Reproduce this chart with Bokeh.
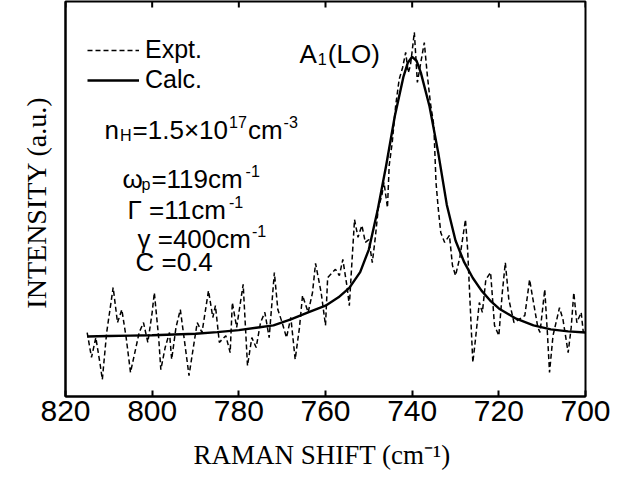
from bokeh.plotting import figure
from bokeh.models import Range1d, FixedTicker, Label, Legend, LegendItem
from bokeh.embed import file_html
from bokeh.resources import INLINE

# ---------------- data ----------------
x_ticks = [820, 800, 780, 760, 740, 720, 700]

calc_x = [815, 810, 805, 800, 795, 790, 785, 780, 776, 772, 768, 764, 760, 757, 754.5,
          752, 750, 748, 746, 744, 742, 741, 740, 739, 738, 736, 734, 732, 730, 728,
          726, 724, 722, 720, 716, 712, 708, 704, 700]
calc_y = [15.2, 15.3, 15.4, 15.5, 15.7, 15.9, 16.3, 16.8, 17.4, 18.0, 19.5, 21.3, 23.0, 25.1, 27.5,
          31.5, 37.2, 47.0, 58.5, 71.0, 81.0, 84.5, 86.0, 85.0, 82.0, 73.5, 61.8, 48.5, 39.5, 34.0,
          30.0, 26.8, 24.3, 22.3, 19.7, 18.0, 17.0, 16.5, 16.2]

expt_x = [815.0, 814.0, 813.0, 812.0, 811.5, 810.5, 809.5, 809.0, 808.0, 807.0, 806.0, 805.0,
          804.0, 803.0, 802.0, 801.0, 800.0, 799.5, 798.5, 798.0, 797.0, 796.0, 795.5, 794.5,
          793.5, 792.5, 791.5, 790.5, 789.6, 788.5, 787.0, 786.0, 785.4, 784.5, 783.0, 782.0,
          781.5, 780.5, 779.0, 778.0, 777.0, 776.0, 775.0, 774.0, 773.0, 771.8, 771.0, 770.0,
          769.0, 768.0, 767.0, 766.0, 765.3, 764.0, 763.0, 762.3, 761.0, 760.0, 759.5, 758.4,
          757.7, 756.8, 756.0, 755.0, 754.5, 754.0, 753.3, 752.5, 751.6, 750.8, 750.0, 749.2,
          748.5, 747.8, 747.0, 746.5, 745.7, 745.3, 744.6, 743.8, 743.0, 742.2, 741.5, 740.9,
          740.4, 739.9, 739.5, 738.8, 738.0, 737.2, 736.5, 735.8, 735.0, 734.5, 734.0, 733.4,
          732.5, 731.4, 730.7, 730.0, 729.0, 727.7, 727.2, 726.5, 726.0, 725.4, 724.5, 723.8,
          723.0, 721.9, 721.0, 720.0, 719.2, 718.5, 717.7, 716.5, 715.4, 714.0, 712.9, 712.0,
          711.0, 710.5, 709.4, 708.8, 708.3, 707.5, 706.8, 706.0, 705.2, 704.0, 703.3, 702.7,
          702.0, 701.0, 700.5]
expt_y = [16.2, 9.9, 14.9, 8.1, 4.3, 16.2, 23.8, 27.6, 18.7, 22.0, 14.9, 6.1,
          11.1, 16.2, 18.7, 13.7, 21.3, 26.3, 14.9, 6.8, 12.4, 16.2, 9.4, 17.5,
          22.0, 13.7, 5.3, 12.4, 18.7, 16.2, 26.8, 20.0, 23.0, 13.7, 15.4, 11.1,
          23.8, 17.5, 28.4, 7.8, 14.9, 12.4, 18.7, 21.3, 14.9, 31.4, 22.0, 18.7,
          14.9, 20.0, 9.4, 17.5, 25.6, 21.3, 26.3, 33.7, 26.3, 18.0, 30.1, 31.4,
          32.2, 30.6, 34.7, 27.6, 23.0, 32.2, 44.8, 40.3, 43.3, 39.0, 39.7, 33.9,
          40.3, 47.8, 50.9, 54.2, 47.8, 58.5, 64.3, 73.7, 80.3, 83.3, 87.1, 82.0,
          83.8, 88.4, 92.2, 79.5, 84.6, 89.6, 81.3, 74.4, 68.6, 54.2, 47.8, 41.5,
          39.0, 40.8, 33.2, 30.6, 35.2, 44.8, 37.2, 20.5, 8.6, 14.4, 23.8, 21.3,
          29.6, 31.4, 18.0, 15.4, 26.3, 33.9, 24.6, 18.7, 19.5, 20.5, 29.6, 23.8,
          17.5, 16.2, 27.1, 16.2, 6.1, 15.4, 18.7, 22.5, 19.5, 11.1, 17.5, 26.3,
          18.7, 21.3, 16.2]

# ---------------- figure ----------------
W, H = 616, 482
FL, FR, FT, FB = 65, 31, 1, 86   # borders around the frame
Y0, Y1 = 0, 100

p = figure(width=W, height=H, x_range=Range1d(820, 700), y_range=Range1d(Y0, Y1),
           output_backend="svg", toolbar_location=None,
           min_border_left=FL, min_border_right=FR, min_border_top=FT, min_border_bottom=FB,
           background_fill_color="white", border_fill_color="white")
p.grid.visible = False
p.outline_line_color = "black"
p.outline_line_width = 2

SANS = "Liberation Sans"
SERIF = "Liberation Serif"

xa = p.xaxis[0]
xa.ticker = FixedTicker(ticks=x_ticks)
xa.major_tick_in = 6
xa.major_tick_out = 0
xa.minor_tick_line_color = None
xa.axis_line_width = 2
xa.major_tick_line_width = 2
xa.major_label_text_font = SANS
xa.major_label_text_font_size = "30px"
xa.major_label_text_color = "black"
xa.major_label_standoff = 4
xa.axis_label = "RAMAN SHIFT  (cm\u207b\u00b9)"
xa.axis_label_text_font = SERIF
xa.axis_label_text_font_size = "27px"
xa.axis_label_text_font_style = "normal"
xa.axis_label_text_color = "black"
xa.axis_label_standoff = 16

ya = p.yaxis[0]
ya.ticker = FixedTicker(ticks=[])
ya.minor_tick_line_color = None
ya.major_tick_line_color = None
ya.axis_line_width = 2
ya.axis_label = "INTENSITY  (a.u.)"
ya.axis_label_text_font = SERIF
ya.axis_label_text_font_size = "28px"
ya.axis_label_text_font_style = "normal"
ya.axis_label_text_color = "black"
ya.axis_label_standoff = 14

# inward ticks along the top edge, at the same tick values
TICK_FRAC = 6.0 / 395 * (Y1 - Y0)
p.segment(x0=x_ticks, x1=x_ticks, y0=[Y1] * len(x_ticks), y1=[Y1 - TICK_FRAC] * len(x_ticks),
          line_color="black", line_width=2)

r_expt = p.line(expt_x, expt_y, line_color="black", line_width=1.5, line_dash="5 3")
r_calc = p.line(calc_x, calc_y, line_color="black", line_width=2.4)

legend = Legend(items=[LegendItem(label="Expt.", renderers=[r_expt]),
                       LegendItem(label="Calc.", renderers=[r_calc])],
                location=(22, 302), border_line_color=None, background_fill_alpha=0,
                padding=0, spacing=1, glyph_width=52, label_standoff=6,
                label_text_font=SANS, label_text_font_size="25px",
                label_text_color="black")
p.add_layout(legend)

# ---------------- annotations ----------------
FW, FH = W - FL - FR, 395
def px2wn(px):
    return 820 - (px - (FL + 8)) * 120.0 / FW
def py2i(py):
    return (FT + 8 + FH - py) * 100.0 / FH

W1000 = {'0': 556, '1': 556, '2': 556, '3': 556, '4': 556, '5': 556, '6': 556, '7': 556,
         '8': 556, '9': 556, '.': 278, '=': 584, '\u00d7': 584, '(': 333, ')': 333, 'A': 667,
         'L': 556, 'O': 778, 'C': 722, 'H': 722, 'n': 556, 'c': 500, 'm': 833, '-': 333,
         '\u03c9': 690, 'p': 556, '\u0393': 556, '\u03b3': 500, ' ': 278}

def text_w(t, size):
    return sum(W1000.get(c, 556) for c in t) / 1000.0 * size

def rich(px, py, segs, size=26):
    off = 0.0
    x, y = px2wn(px), py2i(py)
    for t, kind in segs:
        if kind == "n":
            s, dy = size, 0
        elif kind == "sub":
            s, dy = size * 0.62, -0.2 * size
        else:
            s, dy = size * 0.62, 0.3 * size
        p.add_layout(Label(x=x, y=y, x_offset=off, y_offset=dy, text=t, text_font=SANS,
                           text_font_size=f"{s:.1f}px", text_baseline="alphabetic",
                           text_align="left", text_color="black"))
        off += text_w(t, s) + 1

rich(307, 61, [("A", "n"), ("1", "sub"), ("(LO)", "n")])
rich(112, 137, [("n", "n"), ("H", "sub"), ("=1.5\u00d710", "n"), ("17", "sup"), ("cm", "n"), ("-3", "sup")])
rich(130, 186, [("\u03c9", "n"), ("p", "sub"), ("=119cm", "n"), ("-1", "sup")])
rich(135, 217, [("\u0393 =11cm", "n"), ("-1", "sup")])
rich(145, 246, [("\u03b3 =400cm", "n"), ("-1", "sup")])
rich(143, 269, [("C =0.4", "n")])

open("out.html", "w").write(file_html(p, INLINE))
